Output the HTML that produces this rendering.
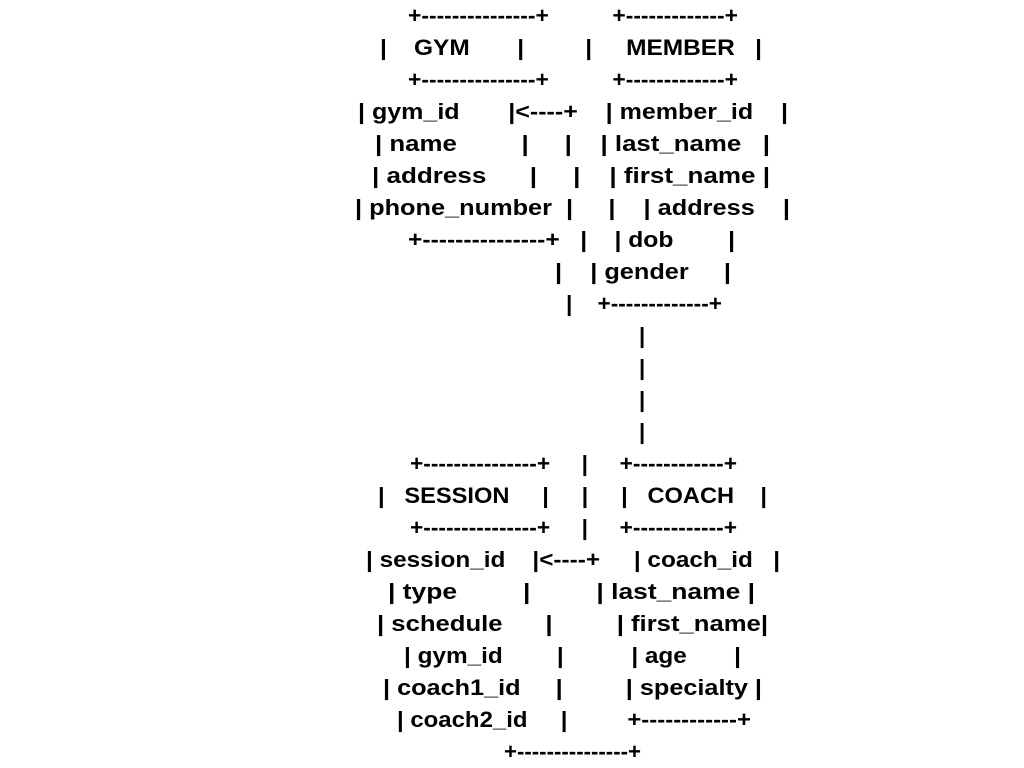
<!DOCTYPE html>
<html><head><meta charset="utf-8"><style>
html,body{margin:0;padding:0;background:#fff;}
svg{display:block}
text{font-family:"Liberation Sans",sans-serif;font-weight:bold;font-size:22px;fill:#000;white-space:pre}
</style></head><body>
<svg width="1024" height="768" xmlns="http://www.w3.org/2000/svg" xml:space="preserve">
<text x="408" y="23" textLength="330" lengthAdjust="spacingAndGlyphs">+---------------+          +-------------+</text>
<text x="380" y="55" textLength="382" lengthAdjust="spacingAndGlyphs">|    GYM       |         |     MEMBER   |</text>
<text x="408" y="87" textLength="330" lengthAdjust="spacingAndGlyphs">+---------------+          +-------------+</text>
<text x="358" y="119" textLength="430" lengthAdjust="spacingAndGlyphs">| gym_id       |&lt;----+    | member_id    |</text>
<text x="375" y="151" textLength="395" lengthAdjust="spacingAndGlyphs">| name         |     |    | last_name   |</text>
<text x="372" y="183" textLength="398" lengthAdjust="spacingAndGlyphs">| address      |     |    | first_name |</text>
<text x="355" y="215" textLength="435" lengthAdjust="spacingAndGlyphs">| phone_number  |     |    | address    |</text>
<text x="408" y="247" textLength="327" lengthAdjust="spacingAndGlyphs">+---------------+   |    | dob        |</text>
<text x="555" y="279" textLength="176" lengthAdjust="spacingAndGlyphs">|    | gender     |</text>
<text x="566" y="311" textLength="156" lengthAdjust="spacingAndGlyphs">|    +-------------+</text>
<text x="639" y="343">|</text>
<text x="639" y="375">|</text>
<text x="639" y="407">|</text>
<text x="639" y="439">|</text>
<text x="410" y="471" textLength="327" lengthAdjust="spacingAndGlyphs">+---------------+     |     +------------+</text>
<text x="378" y="503" textLength="389" lengthAdjust="spacingAndGlyphs">|   SESSION     |     |     |   COACH    |</text>
<text x="410" y="535" textLength="327" lengthAdjust="spacingAndGlyphs">+---------------+     |     +------------+</text>
<text x="366" y="567" textLength="414" lengthAdjust="spacingAndGlyphs">| session_id    |&lt;----+     | coach_id   |</text>
<text x="388" y="599" textLength="367" lengthAdjust="spacingAndGlyphs">| type         |         | last_name |</text>
<text x="377" y="631" textLength="391" lengthAdjust="spacingAndGlyphs">| schedule      |         | first_name|</text>
<text x="404" y="663" textLength="337" lengthAdjust="spacingAndGlyphs">| gym_id        |          | age       |</text>
<text x="383" y="695" textLength="379" lengthAdjust="spacingAndGlyphs">| coach1_id     |         | specialty |</text>
<text x="397" y="727" textLength="354" lengthAdjust="spacingAndGlyphs">| coach2_id     |         +------------+</text>
<text x="504" y="759" textLength="137" lengthAdjust="spacingAndGlyphs">+---------------+</text>
</svg>
</body></html>
